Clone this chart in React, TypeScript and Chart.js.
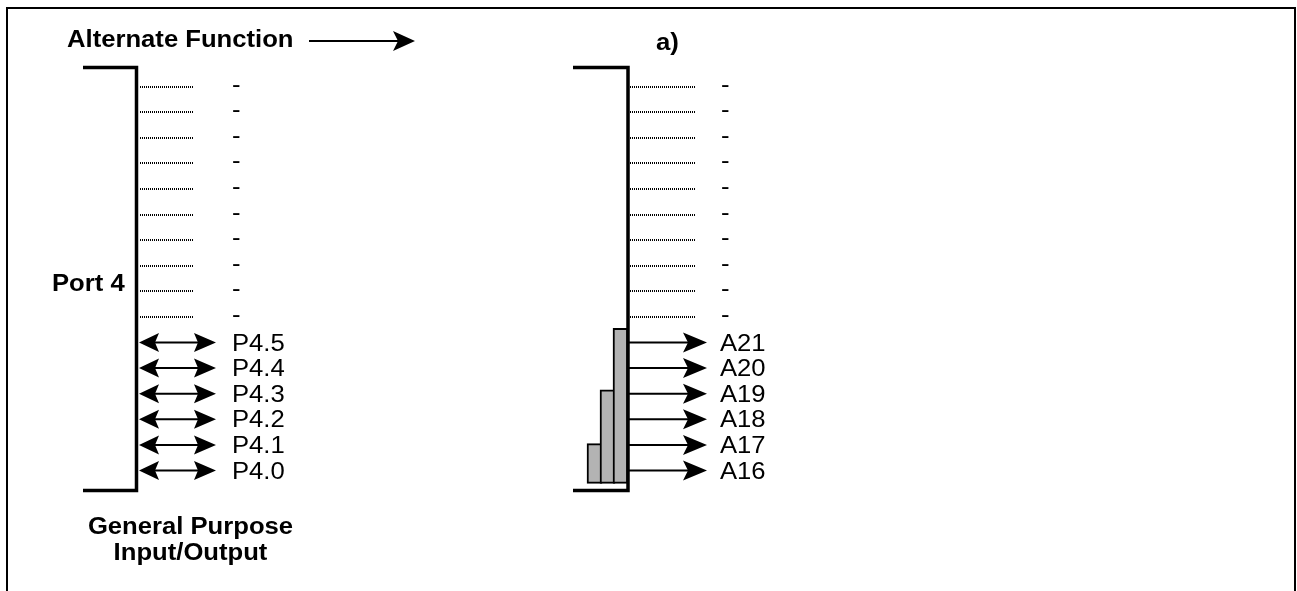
import React, { useEffect, useRef } from "react";
import { Chart, registerables } from "chart.js";

Chart.register(...registerables);

// ---- Data ----
const portName = "Port 4";
const titleText = "Alternate Function";
const altTitle = "a)";
const footerLines = ["General Purpose", "Input/Output"];
const reservedPins = [15, 14, 13, 12, 11, 10, 9, 8, 7, 6];
const usedPins = [5, 4, 3, 2, 1, 0];
const gpioLabels = ["P4.5", "P4.4", "P4.3", "P4.2", "P4.1", "P4.0"];
const altLabels = ["A21", "A20", "A19", "A18", "A17", "A16"];
const reservedLabel = "-";
// address-width bars (floating, in pin units)
const barBase = -0.5;
const barTops = [1.05, 3.15, 5.55];
const barCenters = [594.5, 607.5, 620.5];

// ---- Scale / layout settings (x in diagram units, y in pin units) ----
const X_MIN = 0, X_MAX = 1297;
const Y_MIN = -4.707, Y_MAX = 18.379;
const BRACKET_TOP = 15.74, BRACKET_BOTTOM = -0.78;

const FONT = "'Liberation Sans', Arial, Helvetica, sans-serif";
const SIZE = 23;
const STRETCH = 1.115;

function stretchedText(ctx: CanvasRenderingContext2D, text: string, x: number, y: number, bold: boolean, align: "left" | "center" = "left", size = SIZE, sx = STRETCH) {
  ctx.save();
  ctx.font = `${bold ? "bold " : ""}${size}px ${FONT}`;
  ctx.fillStyle = "#000";
  ctx.textBaseline = "alphabetic";
  const w = ctx.measureText(text).width * sx;
  const left = align === "center" ? x - w / 2 : x;
  ctx.translate(left, y);
  ctx.scale(sx, 1);
  ctx.textAlign = "left";
  ctx.fillText(text, 0, 0);
  ctx.restore();
}

function head(ctx: CanvasRenderingContext2D, tipX: number, y: number, dir: number, len: number, half: number, notch: number) {
  ctx.beginPath();
  ctx.moveTo(tipX, y);
  ctx.lineTo(tipX - dir * len, y - half);
  ctx.lineTo(tipX - dir * (len - notch), y);
  ctx.lineTo(tipX - dir * len, y + half);
  ctx.closePath();
  ctx.fill();
}

function hLine(ctx: CanvasRenderingContext2D, x1: number, x2: number, y: number, w: number) {
  ctx.beginPath();
  ctx.lineWidth = w;
  ctx.moveTo(x1, y);
  ctx.lineTo(x2, y);
  ctx.stroke();
}

const diagramPlugin = {
  id: "diagram",
  afterDatasetsDraw(chart: any) {
    const ctx: CanvasRenderingContext2D = chart.ctx;
    const xs = chart.scales.x;
    const ys = chart.scales.y;
    const X = (v: number) => xs.getPixelForValue(v);
    const Y = (v: number) => ys.getPixelForValue(v);
    ctx.save();
    ctx.strokeStyle = "#000";
    ctx.fillStyle = "#000";

    // frame
    ctx.lineWidth = 2;
    ctx.beginPath();
    ctx.moveTo(X(7), chart.height);
    ctx.lineTo(X(7), 8);
    ctx.lineTo(X(1295), 8);
    ctx.lineTo(X(1295), chart.height);
    ctx.stroke();

    // title + arrow
    stretchedText(ctx, titleText, X(67), 47, true);
    hLine(ctx, X(309), X(400), 41, 2);
    head(ctx, X(415), 41, 1, 22, 10, 5);
    stretchedText(ctx, altTitle, X(656), 50, true, "left", 23, 1.12);

    // port name & footer
    stretchedText(ctx, portName, X(52), 291, true);
    footerLines.forEach((t, i) => stretchedText(ctx, t, X(190.5), 534 + i * 26, true, "center"));

    // reserved rows (dotted lines + dashes)
    reservedPins.forEach((p) => {
      const y = Math.round(Y(p));
      ctx.save();
      ctx.setLineDash([1, 1]);
      ctx.strokeStyle = "#000";
      hLine(ctx, X(140), X(193), y, 2);
      hLine(ctx, X(630), X(695), y, 2);
      ctx.restore();
      stretchedText(ctx, reservedLabel, X(232), Y(p) + 5, false);
      stretchedText(ctx, reservedLabel, X(721), Y(p) + 5, false);
    });

    // used pins
    usedPins.forEach((p, i) => {
      const y = Y(p);
      // bidirectional GPIO arrows
      hLine(ctx, X(150), X(205), y, 2);
      head(ctx, X(139), y, -1, 20, 9.5, 4);
      head(ctx, X(216), y, 1, 22, 9.5, 4);
      stretchedText(ctx, gpioLabels[i], X(232), y + 8, false);
      // alternate function outputs
      hLine(ctx, X(629), X(695), y, 2);
      head(ctx, X(707), y, 1, 24, 10, 5);
      stretchedText(ctx, altLabels[i], X(720), y + 8, false);
    });
    ctx.restore();
  },
};

export default function App() {
  const ref = useRef<HTMLCanvasElement | null>(null);
  useEffect(() => {
    if (!ref.current) return;
    const bracket = (xOuter: number, xInner: number) => [
      { x: xOuter, y: BRACKET_TOP },
      { x: xInner, y: BRACKET_TOP },
      { x: xInner, y: BRACKET_BOTTOM },
      { x: xOuter, y: BRACKET_BOTTOM },
    ];
    const lineStyle = {
      showLine: true,
      pointRadius: 0,
      borderColor: "#000",
      borderWidth: 3.5,
      fill: false,
      tension: 0,
      borderJoinStyle: "miter" as const,
      borderCapStyle: "butt" as const,
    };
    const chart = new Chart(ref.current, {
      type: "scatter",
      data: {
        datasets: [
          { type: "scatter", data: bracket(83, 136.5), order: 0, ...lineStyle } as any,
          { type: "scatter", data: bracket(573, 628), order: 0, ...lineStyle } as any,
          {
            type: "bar",
            data: barCenters.map((c, i) => ({ x: c, y: [barBase, barTops[i]] })),
            backgroundColor: "#b3b3b3",
            borderColor: "#000",
            borderWidth: 2,
            borderSkipped: false,
            barThickness: 15,
            order: 1,
          } as any,
        ],
      },
      options: {
        responsive: false,
        animation: false,
        devicePixelRatio: 1,
        layout: { padding: 0 },
        plugins: { legend: { display: false }, tooltip: { enabled: false }, title: { display: false } },
        events: [],
        scales: {
          x: { type: "linear", min: X_MIN, max: X_MAX, display: false, offset: false, grid: { offset: false } },
          y: { type: "linear", min: Y_MIN, max: Y_MAX, display: false },
        },
      },
      plugins: [diagramPlugin],
    });
    return () => chart.destroy();
  }, []);
  return (
    <div style={{ position: "absolute", left: 0, top: 0, width: 1297, height: 591, background: "#fff" }}>
      <canvas ref={ref} width={1297} height={591} style={{ display: "block" }} />
    </div>
  );
}
